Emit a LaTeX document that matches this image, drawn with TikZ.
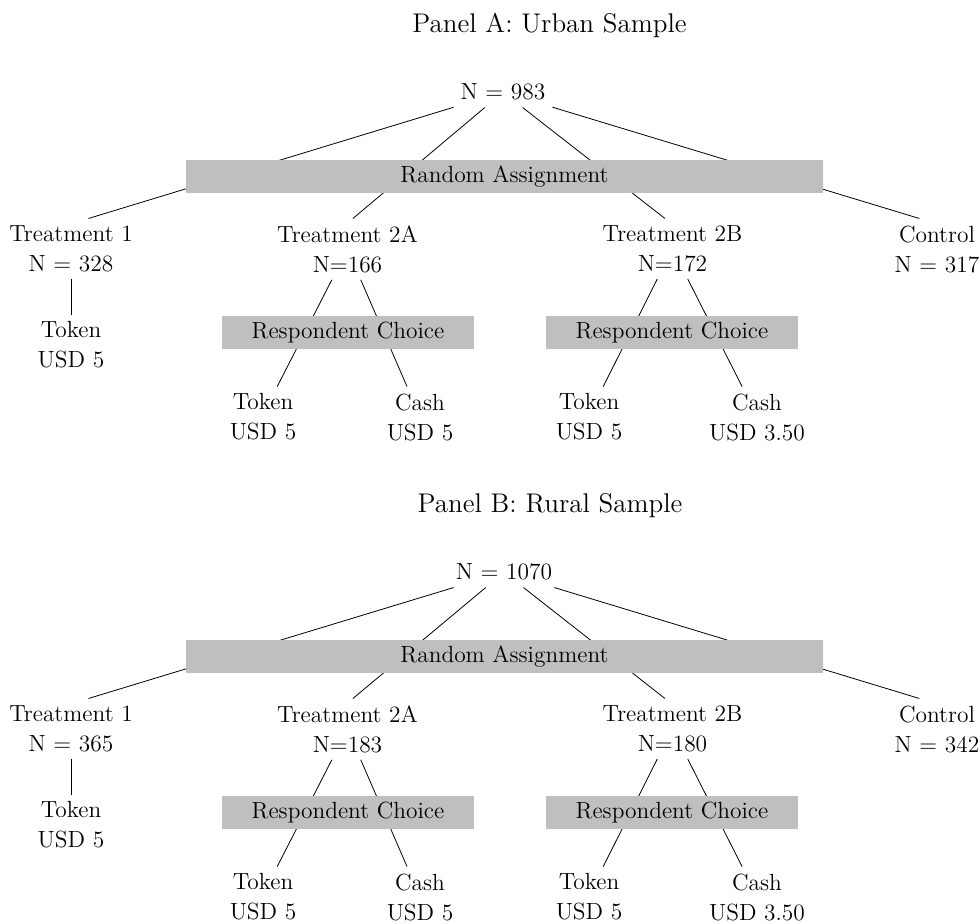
\documentclass[tikz,border=0pt]{standalone}
\tikzset{
    every node/.style={font=\fontsize{11.7}{15}\selectfont},
    grp/.style={align=center,anchor=north},
    gbox/.style={fill=gray!50,minimum height=16.35pt,inner sep=0pt},
    ptitle/.style={font=\fontsize{13.5}{16}\selectfont,anchor=base},
}

\begin{document}
\begin{tikzpicture}[x=0.5pt,y=0.5pt]
            \useasboundingbox (0,0) rectangle (980,924);
            \begin{scope}[shift={(0,924)}]
                \node[ptitle] (titleA) at (549.5,-32.5) {Panel A: Urban Sample};
                \node[anchor=base] (nA) at (503,-100) {N = 983};
                \node[grp] (t1A) at (71,-218.5) {Treatment 1\\N = 328};
                \node[grp] (t2aA) at (347.5,-218.5) {Treatment 2A\\N=166};
                \node[grp] (t2bA) at (672.5,-218.5) {Treatment 2B\\N=172};
                \node[grp] (ctlA) at (937,-218.5) {Control\\N = 317};
                \node[grp] (tok1A) at (71,-314.6) {Token\\USD 5};
                \node[grp] (tok2aA) at (263,-386.6) {Token\\USD 5};
                \node[grp] (cash2aA) at (420,-386.6) {Cash\\USD 5};
                \node[grp] (tok2bA) at (589,-386.6) {Token\\USD 5};
                \node[grp] (cash2bA) at (757,-386.6) {Cash\\USD 3.50};
                \draw (nA)--(t1A.60);
                \draw (nA)--(t2aA.80);
                \draw (nA)--(t2bA.104);
                \draw (nA)--(ctlA.120);
                \draw (t1A.south)--(tok1A.north);
                \draw (t2aA)--(tok2aA.65);
                \draw (t2aA)--(cash2aA.113);
                \draw (t2bA)--(tok2bA.65);
                \draw (t2bA)--(cash2bA.116);
                \node[gbox,minimum width=318.5pt] (raA) at (504.5,-176.3) {Random Assignment};
                \node[gbox,minimum width=126pt] (rc2aA) at (348,-332.3) {Respondent Choice};
                \node[gbox,minimum width=126pt] (rc2bA) at (672,-332.3) {Respondent Choice};
            \end{scope}
            \begin{scope}[shift={(0,444)}]
                \node[ptitle] (titleB) at (550,-32.5) {Panel B: Rural Sample};
                \node[anchor=base] (nB) at (504,-100) {N = 1070};
                \node[grp] (t1B) at (71,-218.5) {Treatment 1\\N = 365};
                \node[grp] (t2aB) at (347.5,-218.5) {Treatment 2A\\N=183};
                \node[grp] (t2bB) at (672.5,-218.5) {Treatment 2B\\N=180};
                \node[grp] (ctlB) at (937,-218.5) {Control\\N = 342};
                \node[grp] (tok1B) at (71,-314.6) {Token\\USD 5};
                \node[grp] (tok2aB) at (263,-386.6) {Token\\USD 5};
                \node[grp] (cash2aB) at (420,-386.6) {Cash\\USD 5};
                \node[grp] (tok2bB) at (589,-386.6) {Token\\USD 5};
                \node[grp] (cash2bB) at (757,-386.6) {Cash\\USD 3.50};
                \draw (nB)--(t1B.60);
                \draw (nB)--(t2aB.80);
                \draw (nB)--(t2bB.104);
                \draw (nB)--(ctlB.120);
                \draw (t1B.south)--(tok1B.north);
                \draw (t2aB)--(tok2aB.65);
                \draw (t2aB)--(cash2aB.113);
                \draw (t2bB)--(tok2bB.65);
                \draw (t2bB)--(cash2bB.116);
                \node[gbox,minimum width=318.5pt] (raB) at (504.5,-176.3) {Random Assignment};
                \node[gbox,minimum width=126pt] (rc2aB) at (348,-332.3) {Respondent Choice};
                \node[gbox,minimum width=126pt] (rc2bB) at (672,-332.3) {Respondent Choice};
            \end{scope}
        \end{tikzpicture}
\end{document}
